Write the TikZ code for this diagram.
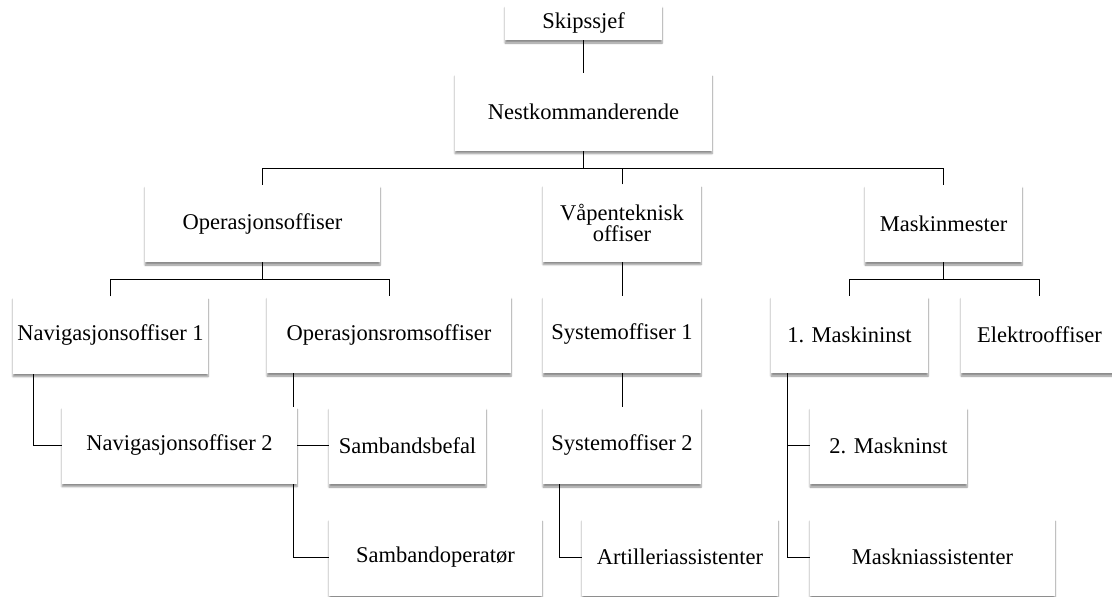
\documentclass[tikz,border=0pt]{standalone}
\usepackage{fontspec}
\setmainfont{Liberation Serif}
\usepackage{tikz}
\usetikzlibrary{shadows.blur,backgrounds}

\begin{document}
\begin{tikzpicture}[x=1pt, y=-1pt,
    rank/.style={rectangle, fill=white, inner sep=0pt, minimum height=77pt,
      font=\fontsize{22.5}{21}\selectfont, align=center,
      blur shadow={shadow xshift=0pt, shadow yshift=-3pt, shadow blur steps=6, shadow opacity=45}},
    link/.style={line width=2pt}]

      \useasboundingbox (0,0) rectangle (1112,597);

      \node[rank, minimum width=157pt, minimum height=35pt] (skipssjef) at (583.5,22.5) {Skipssjef};
      \node[rank, minimum width=257pt] (nestkom) at (583.5,112) {Nestkommanderende};

      \node[rank, minimum width=235pt] (opsoff) at (262.5,223.5) {Operasjonsoffiser};
      \node[rank, minimum width=158pt] (vapen) at (622,223) {Våpenteknisk\\offiser};
      \node[rank, minimum width=157pt] (maskmester) at (943.5,223.5) {Maskinmester};

      \node[rank, minimum width=195pt] (nav1) at (110.5,335) {Navigasjonsoffiser 1};
      \node[rank, minimum width=244pt] (oprom) at (389,334.5) {Operasjonsromsoffiser};
      \node[rank, minimum width=158pt] (sys1) at (622,334.5) {Systemoffiser 1};
      \node[rank, minimum width=157pt] (mask1) at (849.5,334.5) {1. Maskininst};
      \node[rank, minimum width=157pt] (elektro) at (1039.5,334.5) {Elektrooffiser};

      \node[rank, minimum width=235pt] (nav2) at (179.5,445) {Navigasjonsoffiser 2};
      \node[rank, minimum width=157pt] (sambefal) at (407.5,445.5) {Sambandsbefal};
      \node[rank, minimum width=158pt] (sys2) at (622,445.5) {Systemoffiser 2};
      \node[rank, minimum width=157pt] (mask2) at (888.5,445.5) {2. Maskninst};

      \node[rank, minimum width=213pt] (sambop) at (435.5,557) {Sambandoperatør};
      \node[rank, minimum width=196pt] (artilleri) at (680,557) {Artilleriassistenter};
      \node[rank, minimum width=245pt] (maskass) at (932.5,557) {Maskniassistenter};

      \coordinate (level1) at (0,168);
      \coordinate (level2) at (0,279.5);

      % lines go behind the boxes
      \begin{scope}[on background layer, link]
        \draw (skipssjef.south) -- (nestkom.north);
        \draw (nestkom.south) -- (nestkom.south |- level1);
        \draw (opsoff.north) |- (maskmester.north |- level1) -- (maskmester.north);
        \draw (vapen.north) -- (vapen.north |- level1);

        \draw (opsoff.south) -- (opsoff.south |- level2);
        \draw (nav1.north) |- (oprom.north |- level2) -- (oprom.north);
        \draw (maskmester.south) -- (maskmester.south |- level2);
        \draw (mask1.north) |- (elektro.north |- level2) -- (elektro.north);

        \draw (vapen.south) -- (sys1.north);
        \draw (sys1.south) -- (sys2.north);

        \draw ([xshift=20pt]nav1.south west) |- (nav2.west);
        \draw ([xshift=26pt]oprom.south west) |- (sambefal.west);
        \draw ([xshift=26pt]oprom.south west) |- (sambop.west);
        \draw ([xshift=16pt]sys2.south west) |- (artilleri.west);
        \draw ([xshift=16pt]mask1.south west) |- (mask2.west);
        \draw ([xshift=16pt]mask1.south west) |- (maskass.west);
      \end{scope}
    \end{tikzpicture}
\end{document}
